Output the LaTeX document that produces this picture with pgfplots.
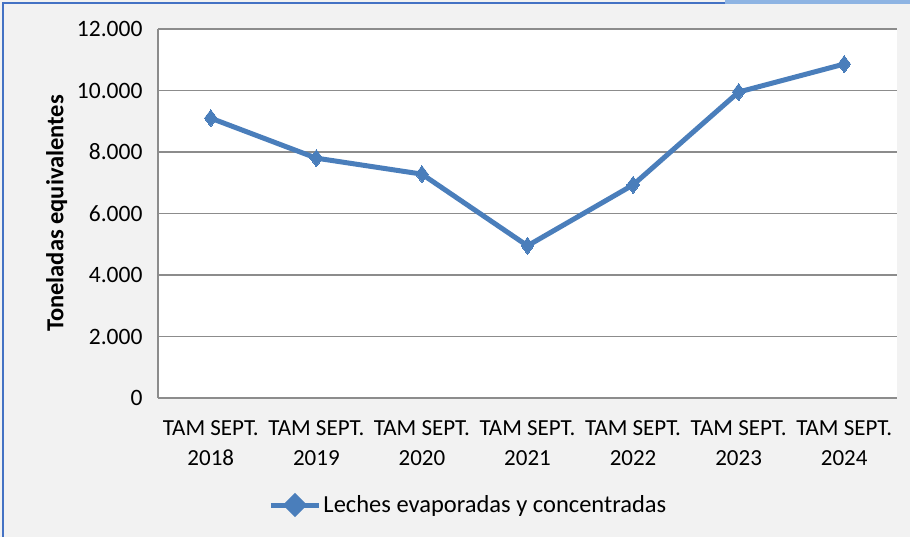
\documentclass[border=0pt]{standalone}
\usepackage{pgfplots}
\pgfplotsset{compat=1.18}
\usepackage{fontspec}
\setmainfont{Carlito}
\definecolor{bgc}{HTML}{F2F2F2}
\definecolor{serie}{HTML}{4A7EBB}
\definecolor{gridc}{HTML}{8C8C8C}
\definecolor{frame}{HTML}{4472C4}
\definecolor{framelt}{HTML}{8EB4E3}
\begin{document}
\begin{tikzpicture}[x=1pt,y=1pt]
\useasboundingbox (0,0) rectangle (910,537);
\fill[bgc] (0,0) rectangle (910,537);
\draw[frame,line width=2pt] (3,0) -- (3,534) -- (725,534);
\draw[framelt,line width=5pt] (725,535.5) -- (910,535.5);
\begin{axis}[
  at={(158pt,139pt)}, anchor=south west,
  scale only axis, width=739pt, height=369pt,
  xmin=-0.5, xmax=6.5, ymin=0, ymax=12000,
  xtick={0,...,6},
  xticklabels={{TAM SEPT.\\2018},{TAM SEPT.\\2019},{TAM SEPT.\\2020},{TAM SEPT.\\2021},{TAM SEPT.\\2022},{TAM SEPT.\\2023},{TAM SEPT.\\2024}},
  xticklabel style={align=center, font=\fontsize{23}{30}\selectfont, yshift=-19pt},
  ytick={0,2000,...,12000},
  yticklabel style={font=\fontsize{23.5}{27}\selectfont, xshift=-12pt},
  /pgf/number format/.cd, 1000 sep={.}, assume math mode=true,
  /pgfplots/.cd,
  scaled y ticks=false,
  major tick length=0pt,
  axis background/.style={fill=white},
  axis x line*=bottom, axis y line*=left,
  axis line style={gridc, line width=1.5pt},
  x axis line style={-}, y axis line style={-},
  ymajorgrids, grid style={gridc, line width=1.5pt},
  ylabel={\bfseries Toneladas equivalentes},
  ylabel style={font=\fontsize{24.5}{28}\selectfont, at={(axis description cs:-0.137,0.5)}, anchor=center},
  legend style={at={(axis description cs:0.42,-0.29)}, anchor=center, draw=none, fill=none, font=\fontsize{24.5}{28}\selectfont, inner sep=0pt},
  legend image code/.code={\draw[#1, line width=5pt] (0pt,0pt) -- (48pt,0pt); \fill[serie] (24pt,0pt) ++(0,8.5pt) -- ++(8.5pt,-8.5pt) -- ++(-8.5pt,-8.5pt) -- ++(-8.5pt,8.5pt) -- cycle;},
]
\addplot[serie, line width=5pt, mark=diamond*, mark size=8.5pt, mark options={fill=serie, draw=serie, line width=0pt}]
coordinates {(0,9100) (1,7800) (2,7280) (3,4950) (4,6930) (5,9950) (6,10860)};
\addlegendentry{Leches evaporadas y concentradas}
\end{axis}
\end{tikzpicture}
\end{document}
